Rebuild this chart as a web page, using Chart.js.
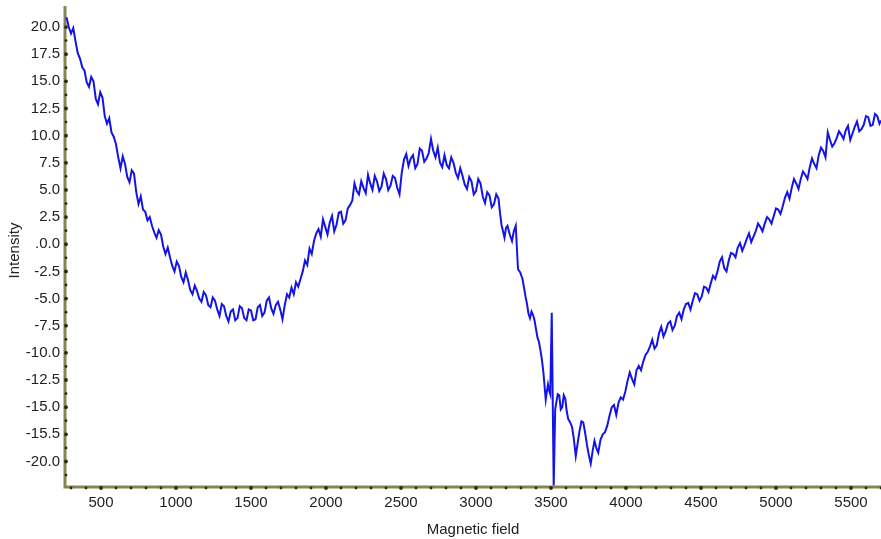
<!DOCTYPE html>
<html>
<head>
<meta charset="utf-8">
<script src="https://cdn.jsdelivr.net/npm/chart.js@4"></script>
<style>
  html, body { margin: 0; padding: 0; background: #fff; }
  #chart { display: block; }
</style>
</head>
<body>
<canvas id="chart" width="881" height="539"></canvas>
<script>
// Data
const field = [
    270, 285, 300, 315, 330, 345, 360, 375, 390, 405, 420, 435, 450, 465, 480, 495,
    510, 525, 540, 555, 570, 585, 600, 615, 630, 645, 660, 675, 690, 705, 720, 735,
    750, 765, 780, 795, 810, 825, 840, 855, 870, 885, 900, 915, 930, 945, 960, 975,
    990, 1005, 1020, 1035, 1050, 1065, 1080, 1095, 1110, 1125, 1140, 1155, 1170, 1185, 1200, 1215,
    1230, 1245, 1260, 1275, 1290, 1305, 1320, 1335, 1350, 1365, 1380, 1395, 1410, 1425, 1440, 1455,
    1470, 1485, 1500, 1515, 1530, 1545, 1560, 1575, 1590, 1605, 1620, 1635, 1650, 1665, 1680, 1695,
    1710, 1725, 1740, 1755, 1770, 1785, 1800, 1815, 1830, 1845, 1860, 1875, 1890, 1905, 1920, 1935,
    1950, 1965, 1980, 1995, 2010, 2025, 2040, 2055, 2070, 2085, 2100, 2115, 2130, 2145, 2160, 2175,
    2190, 2205, 2220, 2235, 2250, 2265, 2280, 2295, 2310, 2325, 2340, 2355, 2370, 2385, 2400, 2415,
    2430, 2445, 2460, 2475, 2490, 2505, 2520, 2535, 2550, 2565, 2580, 2595, 2610, 2625, 2640, 2655,
    2670, 2685, 2700, 2715, 2730, 2745, 2760, 2775, 2790, 2805, 2820, 2835, 2850, 2865, 2880, 2895,
    2910, 2925, 2940, 2955, 2970, 2985, 3000, 3015, 3030, 3045, 3060, 3075, 3090, 3105, 3120, 3135,
    3150, 3160, 3170, 3180, 3190, 3200, 3210, 3225, 3240, 3252, 3265, 3280, 3295, 3310, 3320, 3330,
    3340, 3350, 3360, 3370, 3380, 3390, 3400, 3410, 3420, 3430, 3440, 3450, 3458, 3465, 3472, 3480,
    3488, 3495, 3505, 3518, 3528, 3535, 3545, 3555, 3565, 3575, 3585, 3595, 3605, 3615, 3628, 3640,
    3652, 3665, 3678, 3690, 3703, 3715, 3728, 3740, 3752, 3765, 3778, 3790, 3803, 3815, 3830, 3845,
    3860, 3875, 3890, 3905, 3920, 3935, 3950, 3965, 3980, 3995, 4010, 4025, 4040, 4055, 4070, 4085,
    4100, 4115, 4130, 4145, 4160, 4175, 4190, 4205, 4220, 4235, 4250, 4265, 4280, 4295, 4310, 4325,
    4340, 4355, 4370, 4385, 4400, 4415, 4430, 4445, 4460, 4475, 4490, 4505, 4520, 4535, 4550, 4565,
    4580, 4595, 4610, 4625, 4640, 4655, 4670, 4685, 4700, 4715, 4730, 4745, 4760, 4775, 4790, 4805,
    4820, 4835, 4850, 4865, 4880, 4895, 4910, 4925, 4940, 4955, 4970, 4985, 5000, 5015, 5030, 5045,
    5060, 5075, 5090, 5105, 5120, 5135, 5150, 5165, 5180, 5195, 5210, 5225, 5240, 5255, 5270, 5285,
    5300, 5315, 5330, 5345, 5360, 5375, 5390, 5405, 5420, 5435, 5450, 5465, 5480, 5495, 5510, 5525,
    5540, 5555, 5570, 5585, 5600, 5615, 5630, 5645, 5660, 5675, 5690, 5700
];
const intensity = [
    20.9, 20.0, 19.4, 19.9, 18.7, 17.6, 17.1, 16.3, 16.0, 14.9, 14.5, 15.4, 15.0, 13.4, 12.9, 14.0,
    13.5, 11.8, 11.1, 11.6, 10.3, 9.9, 9.2, 8.0, 7.0, 8.1, 7.4, 6.2, 5.7, 6.8, 6.5, 4.8,
    3.7, 4.4, 3.2, 3.0, 2.2, 2.5, 1.7, 1.1, 0.6, 1.3, 0.9, -0.2, -0.9, -0.3, -1.2, -2.0,
    -2.5, -1.6, -2.0, -3.0, -3.5, -2.6, -3.3, -4.2, -4.6, -3.8, -4.3, -5.0, -5.3, -4.4, -4.7, -5.6,
    -5.8, -4.9, -5.2, -6.0, -6.6, -5.5, -5.7, -6.6, -7.1, -6.2, -6.0, -7.0, -6.8, -5.7, -5.9, -6.8,
    -7.0, -6.0, -6.1, -7.0, -6.9, -5.8, -5.6, -6.6, -6.3, -5.2, -4.9, -5.9, -6.4, -5.6, -5.3, -6.0,
    -6.9, -5.6, -4.6, -4.9, -4.0, -4.6, -3.5, -3.9, -3.2, -2.5, -1.5, -1.9, -0.4, -0.9, 0.3, 1.0,
    1.4, 0.7, 2.3, 1.6, 0.9, 2.0, 2.6, 1.2, 1.8, 2.9, 3.0, 1.9, 2.2, 3.3, 3.6, 4.0,
    5.6, 4.9, 4.6, 5.8, 5.2, 4.7, 6.4, 5.6, 5.0, 6.3, 5.8, 4.9, 5.3, 6.5, 6.0, 5.0,
    5.4, 6.3, 6.1, 5.2, 4.6, 6.6, 7.8, 8.3, 7.2, 7.9, 8.2, 7.0, 7.4, 8.8, 8.6, 7.6,
    7.9, 8.4, 9.7, 8.6, 8.0, 8.9, 7.5, 7.1, 8.2, 7.3, 7.0, 8.0, 7.5, 6.6, 6.1, 7.0,
    6.3, 5.5, 5.1, 6.2, 5.8, 4.6, 4.9, 6.0, 5.6, 4.4, 3.8, 4.8, 4.5, 3.4, 3.7, 4.6,
    4.2, 2.9, 1.8, 1.2, 0.6, 1.5, 1.7, 0.9, 0.3, 1.2, 1.7, -2.3, -2.6, -3.2, -4.0, -4.8,
    -5.5, -6.4, -6.8, -6.2, -6.5, -7.0, -7.8, -8.6, -9.0, -9.8, -10.7, -11.9, -13.2, -14.3, -13.6, -12.9,
    -13.5, -13.8, -6.3, -22.2, -15.2, -14.6, -13.8, -13.9, -15.2, -15.0, -13.9, -14.2, -15.4, -16.1, -16.4, -16.8,
    -17.9, -19.5, -18.3, -17.2, -16.3, -16.4, -17.4, -18.5, -19.4, -20.2, -19.0, -18.1, -18.8, -19.2, -18.0, -17.5,
    -17.3, -16.7, -15.8, -15.0, -14.8, -15.7, -14.6, -14.1, -14.3, -13.6, -12.6, -11.8, -12.4, -12.9, -11.6, -11.2,
    -11.6, -10.8, -10.2, -9.9, -9.4, -8.8, -9.6, -9.3, -8.2, -7.6, -8.5, -8.0, -7.3, -7.1, -7.9, -7.5,
    -6.6, -6.3, -6.9, -6.0, -5.5, -5.4, -6.0, -5.2, -4.5, -4.6, -5.2, -4.8, -3.9, -4.0, -4.4, -3.6,
    -2.9, -3.2, -2.5, -1.6, -1.2, -2.2, -2.5, -1.5, -0.8, -0.9, -1.2, -0.3, 0.1, -0.6, -0.1, 0.5,
    1.0, 0.2, 0.7, 1.2, 1.9, 1.6, 1.2, 1.9, 2.5, 2.3, 1.9, 2.6, 3.3, 3.2, 2.8, 3.5,
    4.3, 4.8, 4.2, 5.2, 6.0, 5.6, 5.1, 6.0, 6.7, 6.4, 6.0, 7.1, 7.9, 7.4, 7.0, 8.2,
    8.9, 8.6, 8.0, 10.3, 9.6, 9.0, 9.3, 9.8, 10.4, 10.1, 9.7, 10.5, 10.9, 9.6, 10.2, 10.8,
    11.3, 10.4, 10.6, 11.0, 11.8, 11.7, 10.9, 11.0, 12.0, 11.8, 11.1, 11.4
];

const xTicks = [500, 1000, 1500, 2000, 2500, 3000, 3500, 4000, 4500, 5000, 5500];
const yTicks = [20, 17.5, 15, 12.5, 10, 7.5, 5, 2.5, 0, -2.5, -5, -7.5, -10, -12.5, -15, -17.5, -20];
const yTickLabels = ['20.0', '17.5', '15.0', '12.5', '10.0', '7.5', '5.0', '2.5', '.0.0', '-2.5',
    '-5.0', '-7.5', '-10.0', '-12.5', '-15.0', '-15.5', '-20.0'];

const font = { family: '"Liberation Sans", Arial, sans-serif', size: 15 };
const textColor = '#222';
const axisColor = '#85854f';

// olive axis lines with dotted tick marks
const axesPlugin = {
    id: 'axes',
    beforeDatasetsDraw(chart) {
        const ctx = chart.ctx;
        const area = chart.chartArea;
        const xs = chart.scales.x;
        const ys = chart.scales.y;
        ctx.save();
        ctx.strokeStyle = axisColor;
        ctx.lineWidth = 3;
        ctx.beginPath();
        ctx.moveTo(area.left, area.top - 8);
        ctx.lineTo(area.left, area.bottom);
        ctx.lineTo(area.right, area.bottom);
        ctx.stroke();

        ctx.fillStyle = '#2a2a1a';
        for (let v = 300; v <= 5700; v += 100) {
            const px = xs.getPixelForValue(v);
            const r = v % 500 === 0 ? 1.9 : 1.4;
            ctx.beginPath();
            ctx.arc(px, area.bottom + 1, r, 0, Math.PI * 2);
            ctx.fill();
        }
        for (let v = -21.25; v <= 21; v += 1.25) {
            const py = ys.getPixelForValue(v);
            const major = Math.abs(v % 2.5) < 0.01;
            ctx.beginPath();
            ctx.arc(area.left + 1, py, major ? 1.9 : 1.4, 0, Math.PI * 2);
            ctx.fill();
        }
        ctx.restore();
    }
};

new Chart(document.getElementById('chart'), {
    type: 'line',
    data: {
        datasets: [{
            data: field.map((x, i) => ({ x: x, y: intensity[i] })),
            borderColor: '#1414e6',
            borderWidth: 2,
            pointRadius: 0,
            tension: 0
        }]
    },
    options: {
        responsive: false,
        animation: false,
        devicePixelRatio: 1,
        layout: { padding: { top: 8, right: 0, left: 0, bottom: 0 } },
        plugins: { legend: { display: false }, tooltip: { enabled: false } },
        scales: {
            x: {
                type: 'linear',
                min: 260,
                max: 5700,
                afterBuildTicks: s => { s.ticks = xTicks.map(v => ({ value: v })); },
                afterFit: s => { s.height = 52; },
                grid: { display: false, drawTicks: false },
                border: { display: false },
                ticks: {
                    font: font, color: textColor, maxRotation: 0, autoSkip: false, padding: 7,
                    callback: v => String(v)
                },
                title: { display: true, text: 'Magnetic field', font: font, color: textColor, padding: { top: 8, bottom: 0 } }
            },
            y: {
                type: 'linear',
                min: -22.35,
                max: 21.2,
                afterBuildTicks: s => { s.ticks = yTicks.map(v => ({ value: v })); },
                afterFit: s => { s.width = 65; },
                grid: { display: false, drawTicks: false },
                border: { display: false },
                ticks: {
                    font: font, color: textColor, autoSkip: false, padding: 5,
                    callback: v => yTickLabels[yTicks.indexOf(v)]
                },
                title: { display: true, text: 'Intensity', font: font, color: textColor, padding: { top: 6, bottom: 0 } }
            }
        }
    },
    plugins: [axesPlugin]
});
</script>
</body>
</html>
